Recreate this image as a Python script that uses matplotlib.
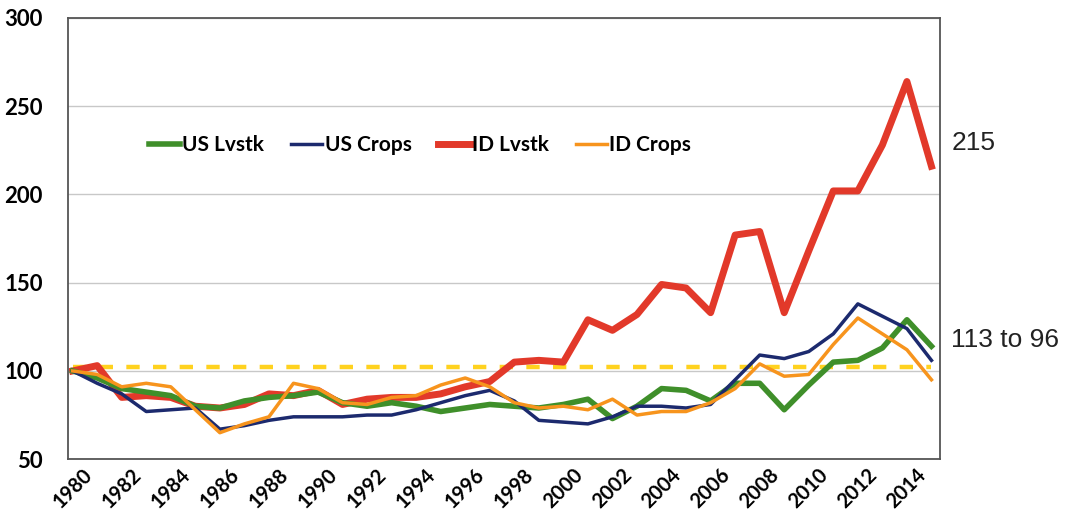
import numpy as np
import matplotlib
matplotlib.use("Agg")
import matplotlib.pyplot as plt

# Index values, 1980 = 100
years = list(range(1980, 2016))
us_lvstk = [100, 96, 90, 88, 86, 80, 79, 83, 85, 86, 88, 82, 80, 82, 80, 77, 79, 81,
            80, 79, 81, 84, 73, 80, 90, 89, 83, 93, 93, 78, 92, 105, 106, 113, 129, 114]
us_crops = [100, 93, 87, 77, 78, 79, 67, 69, 72, 74, 74, 74, 75, 75, 78, 82, 86, 89,
            83, 72, 71, 70, 74, 80, 80, 79, 81, 95, 109, 107, 111, 121, 138, 131, 124, 106]
id_lvstk = [100, 103, 85, 86, 85, 80, 79, 81, 87, 86, 89, 81, 84, 85, 85, 87, 91, 94,
            105, 106, 105, 129, 123, 132, 149, 147, 133, 177, 179, 133, 168, 202, 202, 228, 264, 216]
id_crops = [100, 98, 91, 93, 91, 78, 65, 70, 74, 93, 90, 82, 81, 85, 86, 92, 96, 91,
            82, 79, 80, 78, 84, 75, 77, 77, 82, 90, 104, 97, 98, 115, 130, 121, 112, 95]
base_level = 102
tick_years = list(range(1980, 2015, 2))
end_notes = ["215", "113 to 96"]

fig = plt.figure(figsize=(10.75, 5.29), dpi=100)
ax = fig.add_axes([0.063, 0.132, 0.811, 0.834])

ax.plot(years, [base_level] * len(years), color="#FFD21F", lw=3.2, ls=(0, (3, 3)), zorder=1)
ax.plot(years, us_lvstk, color="#3F8F2A", lw=4, label="US Lvstk", zorder=3)
ax.plot(years, us_crops, color="#1C2A6E", lw=2.5, label="US Crops", zorder=3)
ax.plot(years, id_lvstk, color="#E2392A", lw=5, label="ID Lvstk", zorder=2)
ax.plot(years, id_crops, color="#F7941D", lw=2.5, label="ID Crops", zorder=4)

ax.set_xlim(1979.8, 2015.33)
ax.set_ylim(50, 300)
ax.set_yticks([50, 100, 150, 200, 250, 300])
ax.set_xticks(tick_years)
ax.set_xticklabels([str(y) for y in tick_years], rotation=45, ha="center")
ax.tick_params(length=0)
ax.tick_params(axis="y", labelsize=16, pad=18)
ax.tick_params(axis="x", labelsize=14.5, pad=4)
for lab in ax.get_xticklabels() + ax.get_yticklabels():
    lab.set_fontweight("bold")
    lab.set_family("Lato")
ax.grid(axis="y", color="#c8c8c8", lw=1)
ax.set_axisbelow(True)
for sp in ax.spines.values():
    sp.set_color("#555555")
    sp.set_linewidth(1.3)

leg = ax.legend(loc="center", bbox_to_anchor=(0.404, 0.712), ncol=4, frameon=False,
                handlelength=1.5, handletextpad=0.1, columnspacing=1.3,
                prop={"family": "Lato", "weight": "bold", "size": 15})

fig.text(0.885, 0.73, end_notes[0], fontsize=19, family="Liberation Sans",
         va="center", ha="left", color="#222222")
fig.text(0.885, 0.357, end_notes[1], fontsize=19, family="Liberation Sans",
         va="center", ha="left", color="#222222")

plt.savefig("out.png", dpi=100)
plt.close()
